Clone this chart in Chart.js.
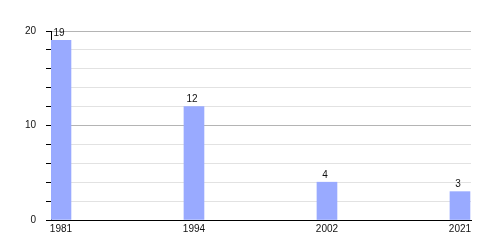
<!DOCTYPE html>
<html>
<head>
<meta charset="utf-8">
<script src="https://cdn.jsdelivr.net/npm/chart.js@4/dist/chart.umd.min.js"></script>
<style>
  html, body { margin: 0; padding: 0; background: #fff; }
  canvas { display: block; }
</style>
</head>
<body>
<canvas id="chart" width="500" height="250"></canvas>
<script>
const years = ['1981', '1994', '2002', '2021'];
const counts = [19, 12, 4, 3];
const yTicks = [0, 10, 20];

const BAR_COLOR = '#99aaff';
const FONT = 'Liberation Sans, Arial, sans-serif';

// bars sit just right of each slot start, so shift them a bit
const SLOT_SHIFT = 0.075;

const points = counts.map((v, i) => ({ x: i + SLOT_SHIFT, y: v }));

// value labels above each bar
const valueLabels = {
    id: 'valueLabels',
    afterDatasetsDraw(chart) {
        const ctx = chart.ctx;
        const meta = chart.getDatasetMeta(0);
        ctx.save();
        ctx.font = '10px ' + FONT;
        ctx.fillStyle = '#111';
        ctx.textAlign = 'center';
        ctx.textBaseline = 'bottom';
        meta.data.forEach((bar, i) => {
            ctx.fillText(String(counts[i]), bar.x - 2, bar.y - 2);
        });
        ctx.restore();
    }
};

new Chart(document.getElementById('chart'), {
    type: 'bar',
    data: {
        datasets: [{
            data: points,
            backgroundColor: BAR_COLOR,
            borderWidth: 0,
            barThickness: 20
        }]
    },
    options: {
        responsive: false,
        animation: false,
        layout: { padding: { top: 31, right: 29, left: 0, bottom: 0 } },
        plugins: {
            legend: { display: false },
            tooltip: { enabled: false }
        },
        scales: {
            x: {
                type: 'linear',
                offset: false,
                min: 0,
                max: 420 / 133,
                grid: { display: false, drawTicks: false, offset: false },
                border: { color: '#000', width: 1 },
                afterBuildTicks(scale) {
                    scale.ticks = years.map((y, i) => ({ value: i + SLOT_SHIFT }));
                },
                ticks: {
                    autoSkip: false,
                    maxRotation: 0,
                    padding: 3,
                    color: '#111',
                    font: { family: FONT, size: 10 },
                    callback: (v, i) => years[i]
                },
                afterFit(scale) { scale.height = 30; }
            },
            y: {
                min: 0,
                max: 20,
                border: { color: '#000', width: 1 },
                grid: {
                    color: c => c.tick.value === 0 ? '#000' : (yTicks.includes(c.tick.value) ? '#b4b4b4' : '#e2e2e2'),
                    tickColor: '#000',
                    tickLength: 5
                },
                ticks: {
                    stepSize: 2,
                    autoSkip: false,
                    padding: 10,
                    color: '#111',
                    font: { family: FONT, size: 10 },
                    callback: v => yTicks.includes(v) ? String(v) : ''
                },
                afterFit(scale) { scale.width = 51; }
            }
        }
    },
    plugins: [valueLabels]
});
</script>
</body>
</html>
